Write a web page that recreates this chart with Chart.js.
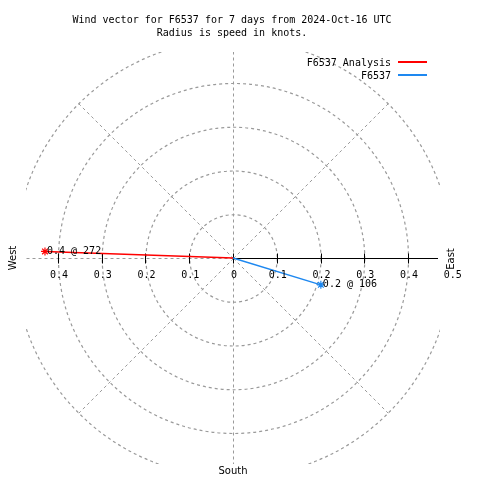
<!DOCTYPE html>
<html>
<head>
<meta charset="utf-8">
<script src="https://cdn.jsdelivr.net/npm/chart.js@4"></script>
<style>
  body { margin: 0; background: #fff; }
  #wrap { width: 480px; height: 480px; position: relative; }
</style>
</head>
<body>
<div id="wrap"><canvas id="windChart"></canvas></div>
<script>
const titleLines = ['Wind vector for F6537 for 7 days from 2024-Oct-16 UTC', 'Radius is speed in knots.'];
const seriesNames = ['F6537 Analysis', 'F6537'];
const seriesColors = ['#ff0000', '#1e88f0'];
const speeds = [0.43, 0.21];
const directions = [272, 107];
const endLabels = ['0.4 @ 272', '0.2 @ 106'];
const rings = [0.1, 0.2, 0.3, 0.4, 0.5];
const spokeAngles = [0, 45, 90, 135, 180, 225, 270, 315];
const tickValues = [-0.4, -0.3, -0.2, -0.1, 0, 0.1, 0.2, 0.3, 0.4, 0.5];
const tickLabels = ['0.4', '0.3', '0.2', '0.1', '0', '0.1', '0.2', '0.3', '0.4', '0.5'];

const monoFont = '10px "DejaVu Sans Mono", monospace';
const sansFont = '10px "DejaVu Sans", sans-serif';
const gridGray = '#9a9a9a';

// compass bearing -> x/y (north up, east right)
function vec(spd, dir) {
    const a = dir * Math.PI / 180;
    return { x: spd * Math.sin(a), y: spd * Math.cos(a) };
}

const datasets = seriesNames.map((name, i) => ({
    label: name,
    data: [{ x: 0, y: 0 }, vec(speeds[i], directions[i])],
    showLine: true,
    borderColor: seriesColors[i],
    backgroundColor: seriesColors[i],
    borderWidth: 1.4,
    pointStyle: 'star',
    pointRadius: [0, 4],
    pointBorderWidth: 1.2,
    pointBorderColor: seriesColors[i]
}));

const polarGrid = {
    id: 'polarGrid',
    beforeDatasetsDraw(chart) {
        const { ctx, chartArea: ca, scales: { x, y } } = chart;
        const cx = x.getPixelForValue(0), cy = y.getPixelForValue(0);
        const pxPer = x.getPixelForValue(1) - cx;
        const sx = Math.round(cx) + 0.5, sy = Math.round(cy) + 0.5;

        ctx.save();
        ctx.beginPath();
        ctx.rect(ca.left, ca.top, ca.right - ca.left, ca.bottom - ca.top);
        ctx.clip();
        ctx.strokeStyle = gridGray;
        ctx.lineWidth = 1.2;
        ctx.setLineDash([3, 3]);
        rings.forEach(r => {
            ctx.beginPath();
            ctx.arc(sx, sy, r * pxPer, 0, Math.PI * 2);
            ctx.stroke();
        });
        ctx.lineWidth = 1;
        const rMax = rings[rings.length - 1] * pxPer;
        spokeAngles.forEach(a => {
            if (a === 90) return; // east side is the solid axis
            const t = a * Math.PI / 180;
            ctx.beginPath();
            ctx.moveTo(sx, sy);
            ctx.lineTo(sx + rMax * Math.sin(t), sy - rMax * Math.cos(t));
            ctx.stroke();
        });
        ctx.restore();

        // solid east axis with ticks
        ctx.save();
        ctx.strokeStyle = '#000';
        ctx.lineWidth = 1;
        ctx.beginPath();
        ctx.moveTo(sx, sy);
        ctx.lineTo(ca.right - 2, sy);
        ctx.stroke();
        tickValues.forEach(v => {
            const px = Math.round(x.getPixelForValue(v)) + 0.5;
            if (v > 0.45) return;
            ctx.beginPath();
            ctx.moveTo(px, sy - 5);
            ctx.lineTo(px, sy + 5);
            ctx.stroke();
        });
        ctx.restore();
    },
    afterDatasetsDraw(chart) {
        const { ctx, scales: { x, y } } = chart;
        const cx = x.getPixelForValue(0), cy = y.getPixelForValue(0);
        ctx.save();
        ctx.fillStyle = '#000';

        // tick labels
        ctx.font = monoFont;
        ctx.textAlign = 'center';
        ctx.textBaseline = 'middle';
        tickValues.forEach((v, i) => {
            ctx.fillText(tickLabels[i], x.getPixelForValue(v) + 1, cy + 17);
        });

        // end labels
        ctx.textAlign = 'left';
        datasets.forEach((ds, i) => {
            const p = ds.data[1];
            ctx.fillText(endLabels[i], x.getPixelForValue(p.x) + 2, y.getPixelForValue(p.y));
        });

        // compass labels
        ctx.font = sansFont;
        ctx.textAlign = 'center';
        ctx.fillText('South', cx, 471);
        ctx.save();
        ctx.translate(13, cy);
        ctx.rotate(-Math.PI / 2);
        ctx.fillText('West', 0, 0);
        ctx.restore();
        ctx.save();
        ctx.translate(451, cy + 1);
        ctx.rotate(-Math.PI / 2);
        ctx.fillText('East', 0, 0);
        ctx.restore();

        // title
        ctx.font = monoFont;
        titleLines.forEach((t, i) => ctx.fillText(t, 232, 20 + i * 13));

        // legend
        ctx.textAlign = 'right';
        seriesNames.forEach((n, i) => {
            const ly = 63 + i * 13;
            ctx.fillStyle = '#000';
            ctx.fillText(n, 391, ly);
            ctx.strokeStyle = seriesColors[i];
            ctx.lineWidth = 2;
            ctx.beginPath();
            ctx.moveTo(398, ly - 1);
            ctx.lineTo(427, ly - 1);
            ctx.stroke();
        });
        ctx.restore();
    }
};

const myChart = new Chart(document.getElementById('windChart'), {
    type: 'scatter',
    data: { datasets: datasets },
    options: {
        responsive: true,
        maintainAspectRatio: false,
        animation: false,
        layout: { padding: { left: 26, right: 40, top: 52, bottom: 16 } },
        scales: {
            x: { display: false, min: -0.4731, max: 0.4731 },
            y: { display: false, min: -0.4709, max: 0.4709 }
        },
        plugins: {
            legend: { display: false },
            title: { display: false },
            tooltip: { enabled: false }
        }
    },
    plugins: [polarGrid]
});
</script>
</body>
</html>
